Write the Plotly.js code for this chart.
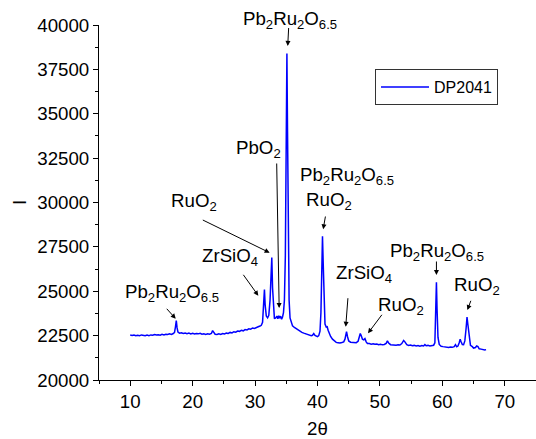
<!DOCTYPE html>
<html>
<head>
<meta charset="utf-8">
<script src="https://cdn.plot.ly/plotly-3.0.1.min.js"></script>
<style>html,body{margin:0;padding:0;background:#fff;}#chart{width:536px;height:439px;}</style>
</head>
<body>
<div id="chart"></div>
<script>
// Series name
const seriesName = 'DP2041';

// 2θ values (degrees)
const twoTheta = [
  10.0, 10.3, 10.6, 10.9, 11.2, 11.5, 11.8, 12.1, 12.4, 12.7,
  13.0, 13.3, 13.6, 13.9, 14.2, 14.5, 14.8, 15.1, 15.4, 15.7,
  16.0, 16.3, 16.6, 16.9, 17.1, 17.25, 17.38, 17.5, 17.65, 17.9,
  18.2, 18.5, 18.8, 19.1, 19.4, 19.7, 20.0, 20.3, 20.6, 20.9,
  21.2, 21.5, 21.8, 22.1, 22.4, 22.7, 23.0, 23.2, 23.4, 23.6,
  23.9, 24.2, 24.5, 24.8, 25.1, 25.4, 25.7, 26.0, 26.3, 26.6,
  26.9, 27.2, 27.5, 27.8, 28.1, 28.4, 28.7, 29.0, 29.3, 29.6,
  29.9, 30.2, 30.5, 30.8, 31.0, 31.2, 31.35, 31.5, 31.62, 31.8,
  32.0, 32.2, 32.4, 32.55, 32.68, 32.8, 32.95, 33.1, 33.3, 33.5,
  33.65, 33.8, 33.95, 34.1, 34.25, 34.4, 34.55, 34.7, 34.85, 35.0,
  35.1, 35.2, 35.32, 35.45, 35.6, 35.8, 36.0, 36.3, 36.6, 36.9,
  37.2, 37.5, 37.8, 38.1, 38.4, 38.7, 39.0, 39.2, 39.4, 39.6,
  39.8, 40.0, 40.2, 40.4, 40.55, 40.68, 40.8, 40.92, 41.05, 41.2,
  41.4, 41.55, 41.7, 41.9, 42.1, 42.4, 42.7, 43.0, 43.3, 43.6,
  43.9, 44.2, 44.4, 44.55, 44.65, 44.8, 45.0, 45.3, 45.6, 45.9,
  46.2, 46.5, 46.7, 46.85, 47.0, 47.2, 47.4, 47.6, 47.8, 48.0,
  48.3, 48.6, 48.9, 49.2, 49.5, 49.8, 50.1, 50.4, 50.7, 51.0,
  51.2, 51.4, 51.7, 52.0, 52.3, 52.6, 52.9, 53.2, 53.5, 53.8,
  54.0, 54.3, 54.6, 54.9, 55.2, 55.5, 55.8, 56.1, 56.4, 56.7,
  57.0, 57.2, 57.4, 57.7, 58.0, 58.3, 58.6, 58.8, 58.95, 59.05,
  59.15, 59.3, 59.5, 59.8, 60.1, 60.4, 60.7, 61.0, 61.3, 61.6,
  61.9, 62.1, 62.3, 62.5, 62.7, 62.85, 63.0, 63.2, 63.4, 63.6,
  63.8, 63.95, 64.1, 64.3, 64.5, 64.8, 65.0, 65.3, 65.5, 65.7,
  65.9, 66.2, 66.5, 66.8, 67.0
];

// Intensity values (counts)
const intensity = [
  22540, 22510, 22530, 22490, 22520, 22500, 22540, 22510, 22490, 22530,
  22500, 22540, 22520, 22560, 22530, 22550, 22520, 22570, 22540, 22580,
  22560, 22600, 22570, 22620, 22680, 23000, 23350, 22950, 22700, 22640,
  22660, 22620, 22650, 22610, 22640, 22600, 22630, 22590, 22620, 22600,
  22630, 22580, 22600, 22570, 22600, 22580, 22620, 22780, 22680, 22580,
  22560, 22600, 22570, 22620, 22590, 22640, 22620, 22680, 22650, 22720,
  22690, 22760, 22740, 22800, 22770, 22840, 22820, 22880, 22860, 22930,
  22900, 22970, 23000, 23040, 23080, 23250, 24200, 25100, 24200, 23600,
  23500, 23650, 24500, 26000, 26900, 25200, 23800, 23450, 23500, 23600,
  23450, 23620, 23480, 23600, 23420, 23550, 23800, 24500, 27000, 33000,
  38400, 34000, 27500, 24500, 23500, 23200, 23050, 22960, 22880, 22800,
  22760, 22680, 22640, 22600, 22580, 22540, 22500, 22520, 22620, 22510,
  22460, 22440, 22500, 22750, 23800, 26500, 28100, 26500, 24000, 23150,
  22980, 23000, 22800, 22600, 22450, 22300, 22200, 22120, 22100, 22080,
  22110, 22150, 22300, 22680, 22720, 22450, 22200, 22130, 22110, 22090,
  22100, 22180, 22400, 22620, 22500, 22300, 22260, 22330, 22150, 22060,
  22050, 22020, 22040, 22010, 22030, 21990, 22010, 21980, 22000, 22060,
  22200, 22080, 21990, 21970, 21990, 21960, 21980, 21970, 22050, 22230,
  22150, 21990, 21950, 21970, 21930, 21950, 21920, 21940, 21910, 21940,
  21920, 22000, 21930, 21950, 21920, 21940, 21960, 22100, 23800, 25500,
  24000, 22400, 22000, 21900, 21880, 21850, 21860, 21830, 21860, 21840,
  21880, 21990, 21870, 21910, 22100, 22300, 22150, 22000, 21990, 22200,
  22900, 23550, 23100, 22300, 21950, 21880, 21800, 21830, 21920, 21880,
  21760, 21740, 21700, 21690, 21710
];

// Axis tick labels
const xTickVals = [10, 20, 30, 40, 50, 60, 70];
const yTickVals = [20000, 22500, 25000, 27500, 30000, 32500, 35000, 37500, 40000];

// Phase labels
const PRO = 'Pb<sub>2</sub>Ru<sub>2</sub>O<sub>6.5</sub>';
const RUO = 'RuO<sub>2</sub>';
const ZRS = 'ZrSiO<sub>4</sub>';
const PBO = 'PbO<sub>2</sub>';
const phaseLabels = [PRO, PBO, PRO, RUO, RUO, ZRS, PRO, ZRS, RUO, PRO, RUO];

const FONT = 'Liberation Sans, Arial, sans-serif';
const FS = 18.7;

// label text positions: [x (data), y, yref]
const labelPos = [
  [35.55, 1.013, 'paper'], [30.61, 33015, 'y'], [44.77, 31494, 'y'], [41.89, 30085, 'y'], [20.25, 30028, 'y'],
  [25.94, 26930, 'y'], [16.67, 24902, 'y'], [47.40, 25972, 'y'], [53.41, 24169, 'y'], [59.09, 27212, 'y'], [65.58, 25296, 'y']
];
// arrows: [tailX, tailY, tipX, tipY]
const arrows = [
  [35.39, 39915, 35.23, 38818],
  [33.46, 32282, 33.86, 24056],
  [41.31, 29296, 40.91, 28490],
  [21.39, 29054, 32.33, 27172],
  [27.95, 26011, 30.52, 24750],
  [15.64, 24096, 17.29, 23450],
  [44.89, 24693, 44.52, 23003],
  [50.49, 23758, 48.09, 22631],
  [59.05, 26761, 59.05, 25916],
  [64.65, 24547, 64.01, 23944]
];

const annotations = [];
phaseLabels.forEach((t, i) => {
  annotations.push({
    x: labelPos[i][0], y: labelPos[i][1], xref: 'x', yref: labelPos[i][2],
    text: t, showarrow: false, xanchor: 'center', yanchor: 'middle',
    font: {family: FONT, size: FS, color: '#000'}
  });
});
arrows.forEach(a => {
  annotations.push({
    x: a[2], y: a[3], xref: 'x', yref: 'y',
    ax: a[0], ay: a[1], axref: 'x', ayref: 'y',
    text: '', showarrow: true, arrowhead: 2, arrowsize: 1, arrowwidth: 1,
    arrowcolor: '#000', standoff: 0, startstandoff: 0
  });
});

const trace = {
  x: twoTheta, y: intensity, type: 'scatter', mode: 'lines', name: seriesName,
  line: {color: '#0000ff', width: 1.5}
};

const axisCommon = {
  showline: true, linecolor: '#000', linewidth: 1, showgrid: false, zeroline: false,
  ticks: 'outside', ticklen: 5, tickwidth: 1, tickcolor: '#000',
  tickfont: {family: FONT, size: FS, color: '#000'}, mirror: false
};

const layout = {
  width: 536, height: 439,
  margin: {l: 99, r: 0, t: 25, b: 59, pad: 0},
  paper_bgcolor: '#fff', plot_bgcolor: '#fff',
  showlegend: true,
  legend: {
    x: 0.6316, y: 0.876, xanchor: 'left', yanchor: 'top',
    bordercolor: '#333', borderwidth: 1, bgcolor: '#fff',
    font: {family: FONT, size: 16, color: '#000'}, itemwidth: 48
  },
  xaxis: Object.assign({}, axisCommon, {
    range: [5, 75], tickvals: xTickVals,
    minor: {ticks: 'outside', dtick: 5, tick0: 5, ticklen: 3, tickcolor: '#000', tickwidth: 1},
    title: {text: '2θ', font: {family: FONT, size: FS, color: '#000'}, standoff: 15}
  }),
  yaxis: Object.assign({}, axisCommon, {
    range: [20000, 40000], tickvals: yTickVals, tickformat: 'd',
    minor: {ticks: 'outside', dtick: 1250, tick0: 20000, ticklen: 3, tickcolor: '#000', tickwidth: 1},
    title: {text: 'I', font: {family: FONT, size: FS, color: '#000'}, standoff: 5}
  }),
  annotations: annotations
};

Plotly.newPlot('chart', [trace], layout, {displayModeBar: false, staticPlot: true});
</script>
</body>
</html>
